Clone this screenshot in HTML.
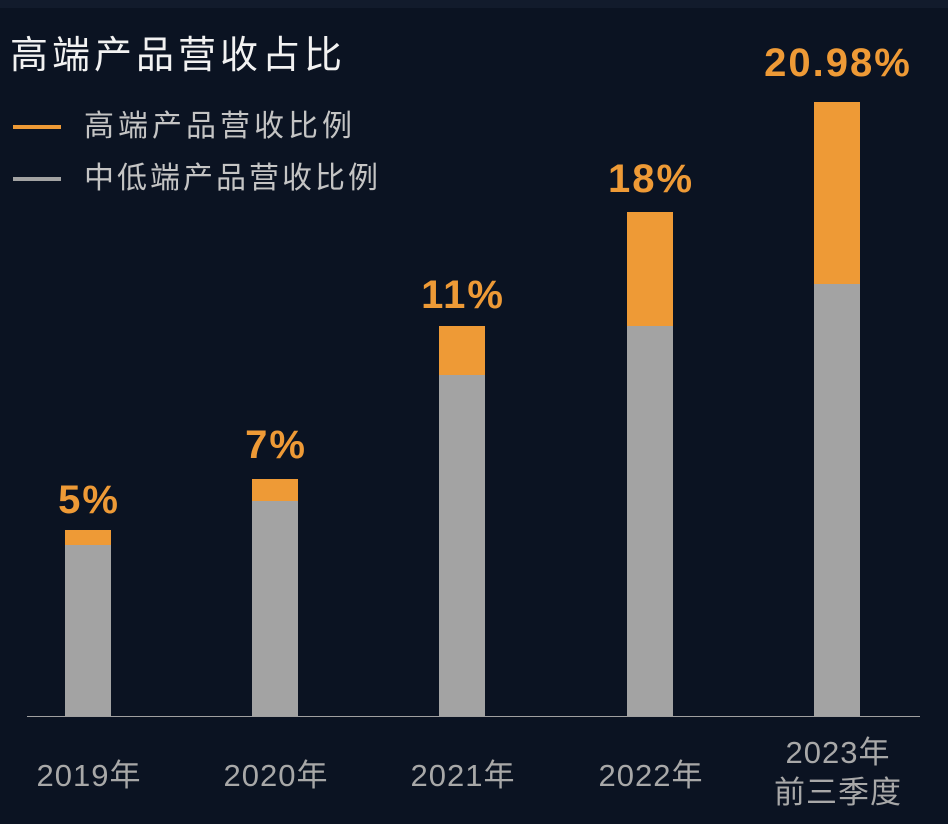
<!DOCTYPE html>
<html><head><meta charset="utf-8"><style>
body{margin:0;width:948px;height:824px;background:#0b1322;position:relative;overflow:hidden;font-family:"Liberation Sans","Noto Sans CJK SC",sans-serif}
.top{position:absolute;left:0;top:0;width:948px;height:8px;background:#121b2c}
.t{position:absolute;white-space:nowrap}
.bar{position:absolute;width:46px}
.o{background:#ee9a36}.g{background:#a3a3a3}
.v{position:absolute;color:#ee9a36;font-weight:bold;font-size:40px;letter-spacing:2px;text-align:center;width:240px;line-height:1}
.x{position:absolute;color:#a8a8a8;font-size:31px;letter-spacing:1px;text-align:center;width:240px;line-height:40px}
</style></head><body>
<div class="top"></div>
<div class="t" style="left:10px;top:30px;font-size:38px;letter-spacing:4px;color:#f2f2f2;line-height:52px">高端产品营收占比</div>
<div style="position:absolute;left:13px;top:125px;width:48px;height:4px;background:#ee9a36"></div>
<div class="t" style="left:84px;top:107px;font-size:30px;letter-spacing:4px;color:#c4c4c4;line-height:40px">高端产品营收比例</div>
<div style="position:absolute;left:13px;top:177px;width:48px;height:4px;background:#a3a3a3"></div>
<div class="t" style="left:84px;top:159px;font-size:30px;letter-spacing:3px;color:#c4c4c4;line-height:40px">中低端产品营收比例</div>
<div style="position:absolute;left:27px;top:716px;width:893px;height:1px;background:#a0a0a0"></div>

<div class="bar o" style="left:65px;top:530px;height:15px"></div><div class="bar g" style="left:65px;top:545px;height:171px"></div>
<div class="bar o" style="left:252px;top:479px;height:22px"></div><div class="bar g" style="left:252px;top:501px;height:215px"></div>
<div class="bar o" style="left:439px;top:326px;height:49px"></div><div class="bar g" style="left:439px;top:375px;height:341px"></div>
<div class="bar o" style="left:627px;top:212px;height:114px"></div><div class="bar g" style="left:627px;top:326px;height:390px"></div>
<div class="bar o" style="left:814px;top:102px;height:182px"></div><div class="bar g" style="left:814px;top:284px;height:432px"></div>

<div class="v" style="left:-31px;top:480px">5%</div>
<div class="v" style="left:156px;top:425px">7%</div>
<div class="v" style="left:343px;top:275px">11%</div>
<div class="v" style="left:531px;top:159px">18%</div>
<div class="v" style="left:718px;top:43px">20.98%</div>

<div class="x" style="left:-31px;top:756px">2019年</div>
<div class="x" style="left:156px;top:756px">2020年</div>
<div class="x" style="left:343px;top:756px">2021年</div>
<div class="x" style="left:531px;top:756px">2022年</div>
<div class="x" style="left:718px;top:733px">2023年<br>前三季度</div>
</body></html>
